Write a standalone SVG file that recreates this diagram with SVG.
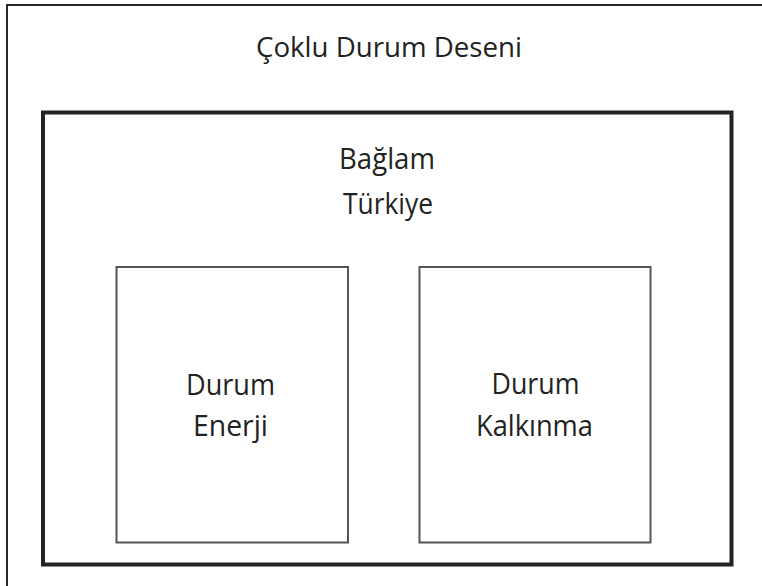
<svg xmlns="http://www.w3.org/2000/svg" width="762" height="586" viewBox="0 0 762 586">
<style>
  text { font-family: "Open Sans", "Noto Sans", "DejaVu Sans", sans-serif; fill: #222; text-anchor: middle; }
  .title { font-size: 28px; }
  .lbl { font-size: 29px; }
  .box { fill: #fff; stroke: #555; stroke-width: 2; }
</style>
<rect x="0" y="0" width="762" height="586" fill="#fff"/>
<g id="outer-frame">
  <rect x="7" y="5" width="770" height="600" fill="none" stroke="#111" stroke-width="1.8"/>
  <text class="title" x="389" y="57" textLength="266" lengthAdjust="spacingAndGlyphs">Çoklu Durum Deseni</text>
</g>
<g id="context-turkiye">
  <rect x="43" y="112.5" width="688.5" height="452" fill="none" stroke="#222" stroke-width="4"/>
  <text class="lbl" x="387" y="169" textLength="96" lengthAdjust="spacingAndGlyphs">Bağlam</text>
  <text class="lbl" x="388" y="214" textLength="90" lengthAdjust="spacingAndGlyphs">Türkiye</text>
</g>
<g id="case-energy">
  <rect class="box" x="116.5" y="267" width="231.5" height="275.5"/>
  <text class="lbl" x="230.5" y="395" textLength="89" lengthAdjust="spacingAndGlyphs">Durum</text>
  <text class="lbl" x="230.5" y="436" textLength="75" lengthAdjust="spacingAndGlyphs">Enerji</text>
</g>
<g id="case-development">
  <rect class="box" x="419.5" y="267" width="231" height="275.5"/>
  <text class="lbl" x="535.5" y="394" textLength="88" lengthAdjust="spacingAndGlyphs">Durum</text>
  <text class="lbl" x="534.5" y="436" textLength="117" lengthAdjust="spacingAndGlyphs">Kalkınma</text>
</g>
<g id="connectors"></g>
</svg>
